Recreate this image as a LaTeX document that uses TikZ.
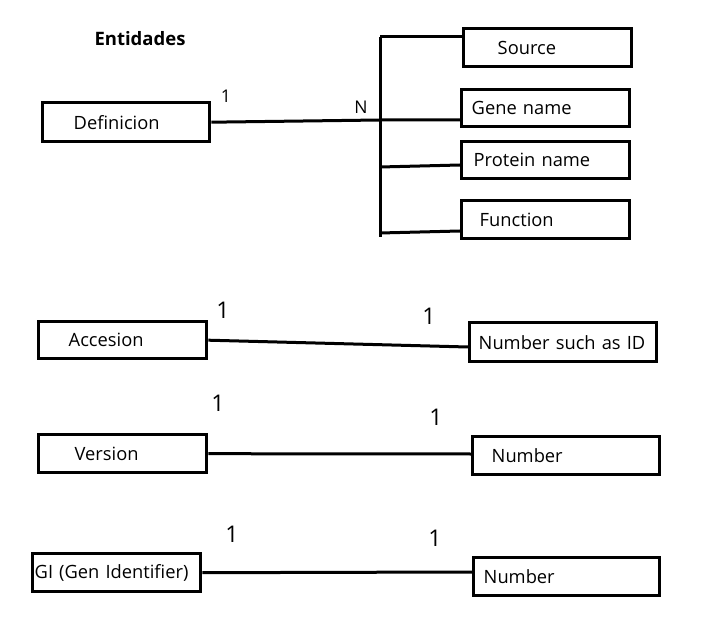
\documentclass[tikz,border=0pt]{standalone}
\usepackage{fontspec}
\setmainfont{Open Sans}
\begin{document}
\begin{tikzpicture}[x=1pt,y=-1pt,
  ebox/.style={draw,line width=3.4pt,anchor=north west,inner xsep=0pt,inner ysep=0pt,align=left,font=\fontsize{18.3}{21}\selectfont},
  conn/.style={line width=3pt},
  card/.style={font=\fontsize{23}{25}\selectfont,inner sep=0pt},
  cardn/.style={font=\fontsize{17.5}{20}\selectfont,inner sep=0pt}]
\useasboundingbox (0,0) rectangle (710,639);
\node[font=\bfseries\fontsize{18.5}{21}\selectfont] (title) at (140,39) {Entidades};
% top group
\node[ebox,text width=167pt,minimum height=39pt] (def) at (41,101) {\hspace*{31pt}Definicion};
\node[ebox,text width=168pt,minimum height=38pt] (source) at (462,27) {\hspace*{34pt}\raisebox{-2pt}{Source}};
\node[ebox,text width=168pt,minimum height=37pt] (gene) at (460,88) {\hspace*{10pt}Gene name};
\node[ebox,text width=168pt,minimum height=37pt] (protein) at (460,140) {\hspace*{12pt}Protein name};
\node[ebox,text width=168pt,minimum height=38pt] (function) at (460,199) {\hspace*{18pt}\raisebox{-3pt}{Function}};
\coordinate (tt) at (380,37);
\coordinate (tb) at (380,237);
\coordinate (tg) at (380,120);
\coordinate (tp) at (380,167);
\coordinate (tf) at (380,233);
\draw[conn] (tt) -- (tb);
\draw[conn] (tt) -- (source.west |- tt);
\draw[conn] (def.east) -- (tg) -- (gene.west |- tg);
\draw[conn] (tp) -- (protein.west |- 0,165);
\draw[conn] (tf) -- (function.west |- 0,231);
\node[cardn] (c1) at (226,96) {1};
\node[cardn] (cn) at (361,107) {N};
% accesion
\node[ebox,text width=168pt,minimum height=37pt] (acc) at (37,320) {\hspace*{30pt}Accesion};
\node[ebox,text width=187pt,minimum height=39pt] (accnum) at (468,321) {\hspace*{9pt}\raisebox{-2pt}{Number such as ID}};
\draw[conn] (acc.east) -- (accnum.west |- 0,347);
\node[card] (a1) at (223,310) {1};
\node[card] (a2) at (429,316) {1};
% version
\node[ebox,text width=168pt,minimum height=38pt] (ver) at (37,433) {\hspace*{36pt}Version};
\node[ebox,text width=187pt,minimum height=38pt] (vernum) at (471,435) {\hspace*{19pt}\raisebox{-6pt}{Number}};
\draw[conn] (ver.east) -- (vernum.west |- 0,454);
\node[card] (v1) at (218,403) {1};
\node[card] (v2) at (436,417) {1};
% GI
\node[ebox,text width=168pt,minimum height=38pt] (gi) at (31,552) {\hspace*{2pt}GI (Gen Identifier)};
\node[ebox,text width=186pt,minimum height=38pt] (ginum) at (472,556) {\hspace*{10pt}\raisebox{-2pt}{Number}};
\draw[conn] (gi.east) -- (ginum.west |- 0,572);
\node[card] (g1) at (232,534) {1};
\node[card] (g2) at (435,538) {1};
\end{tikzpicture}
\end{document}
